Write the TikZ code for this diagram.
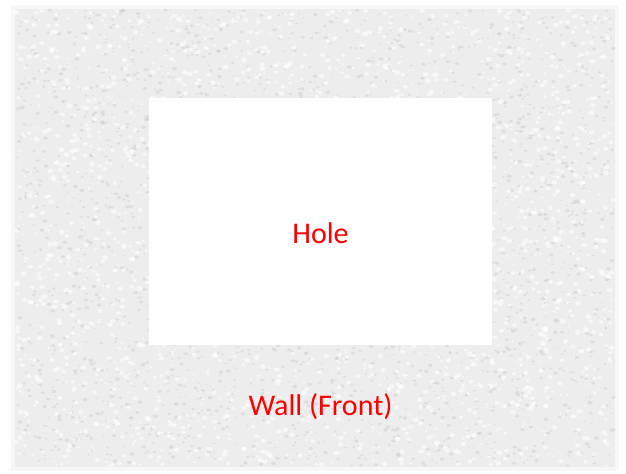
\documentclass[tikz,border=0pt]{standalone}
\usepackage{fontspec}
\setmainfont{Carlito}
\usetikzlibrary{positioning}

\begin{document}
\begin{tikzpicture}[
  x=0.75pt,y=-0.75pt,
  wall/.style={fill=black!7,draw=none},
  speck/.style={fill=black!20,draw=none},
  fleck/.style={fill=white,draw=none},
  hole/.style={fill=white,draw=none,minimum width=257.25pt,minimum height=185.25pt,inner sep=0pt},
  lbl/.style={text=red,font=\fontsize{22.5}{27}\selectfont,inner sep=0pt}]
\useasboundingbox[fill=white] (0,0) rectangle (626,474);
% wall surface
\fill[black!3] (11,5) rectangle (619,471);
\fill[wall] (15,9) rectangle (615,467);
\pgfmathsetseed{4711}
\foreach \i in {1,...,2600}{
  \pgfmathsetmacro\px{16+598*rnd}
  \pgfmathsetmacro\py{10+456*rnd}
  \pgfmathsetmacro\rr{0.8+1.6*rnd}
  \fill[speck,opacity=0.45] (\px,\py) ellipse[x radius=\rr,y radius=0.7*\rr];
}
\foreach \i in {1,...,2600}{
  \pgfmathsetmacro\px{16+598*rnd}
  \pgfmathsetmacro\py{10+456*rnd}
  \pgfmathsetmacro\rr{1+2*rnd}
  \fill[fleck,opacity=0.6] (\px,\py) ellipse[x radius=\rr,y radius=0.8*\rr];
}
% hole and labels
\node[hole] (hole) at (320.5,221.5) {};
\node[lbl,yshift=-9pt] (holetext) at (hole.center) {Hole};
\node[lbl,below=36pt of hole.south] (walltext) {Wall (Front)};
\end{tikzpicture}
\end{document}
